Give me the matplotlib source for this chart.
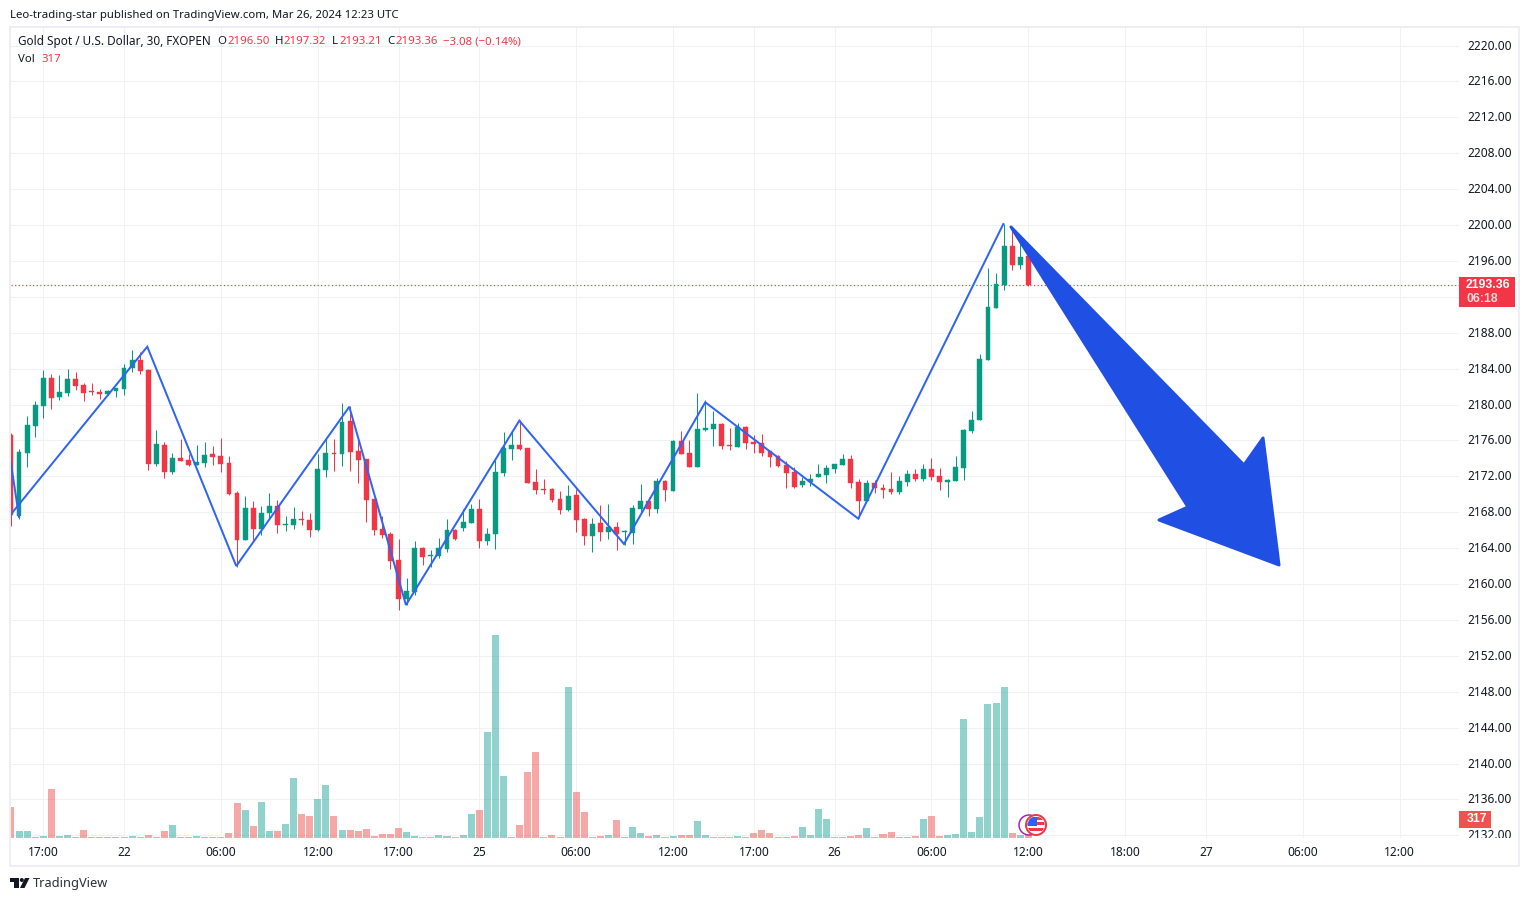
import matplotlib
matplotlib.use("Agg")
import matplotlib.pyplot as plt
from matplotlib.patches import Polygon, Rectangle, Circle
from matplotlib.transforms import Bbox, ScaledTranslation

FONT = "Noto Sans"
plt.rcParams["font.family"] = FONT

opens = [2176.61,2167.59,2174.64,2177.61,2179.88,2182.96,2180.84,2181.29,2182.85,2182.18,
2181.51,2181.40,2181.17,2181.51,2181.73,2184.07,2184.96,2183.85,2173.38,2175.49,
2172.49,2174.05,2173.82,2173.27,2173.49,2174.49,2174.27,2173.49,2170.15,2164.91,
2168.48,2166.14,2167.92,2168.70,2166.58,2166.58,2167.25,2167.14,2166.03,2172.71,
2174.60,2174.49,2178.17,2174.83,2173.93,2169.48,2166.14,2165.58,2162.68,2158.34,
2159.12,2164.02,2163.13,2163.13,2163.91,2166.03,2166.25,2166.81,2168.36,2164.80,
2165.58,2172.37,2175.04,2175.49,2175.16,2171.37,2170.59,2170.59,2169.47,2168.25,
2169.92,2167.25,2165.35,2166.80,2165.80,2166.36,2165.80,2165.69,2168.36,2169.25,
2168.36,2171.48,2170.37,2175.94,2174.60,2173.04,2177.16,2177.27,2177.83,2175.49,
2175.27,2177.49,2175.82,2175.71,2174.82,2174.26,2173.26,2172.48,2171.03,2171.37,
2171.92,2172.15,2172.81,2173.26,2173.93,2171.37,2169.25,2171.25,2170.70,2170.59,
2170.25,2171.37,2172.26,2171.70,2172.81,2172.03,2171.37,2171.48,2172.93,2177.05,
2178.28,2184.96,2190.75,2193.32,2197.66,2195.54,2196.50]

highs = [2176.79,2175.05,2178.72,2180.40,2183.85,2183.40,2183.29,2183.96,2183.63,2182.40,
2182.40,2181.73,2181.62,2181.88,2184.52,2186.08,2185.85,2183.96,2177.16,2175.83,
2174.60,2176.16,2174.49,2175.49,2175.83,2175.38,2176.27,2174.27,2170.37,2169.81,
2169.26,2168.70,2170.15,2169.37,2167.58,2168.59,2168.14,2167.92,2174.49,2176.27,
2176.16,2180.17,2179.84,2175.94,2173.93,2169.48,2167.58,2165.80,2165.02,2160.68,
2164.80,2164.13,2163.80,2165.13,2167.25,2166.14,2168.36,2168.92,2169.48,2166.25,
2173.82,2176.94,2177.05,2178.27,2175.16,2172.82,2171.70,2170.70,2170.37,2171.03,
2170.59,2167.36,2167.36,2168.81,2168.92,2166.91,2166.02,2168.81,2171.15,2169.70,
2171.81,2171.59,2176.05,2177.05,2176.05,2181.28,2180.50,2179.28,2177.94,2177.38,
2177.94,2177.60,2176.60,2176.71,2174.82,2174.37,2173.71,2173.04,2171.92,2172.26,
2173.37,2173.26,2173.37,2174.48,2174.37,2171.70,2171.59,2171.59,2171.14,2172.48,
2172.03,2172.70,2172.81,2173.37,2174.04,2172.93,2171.70,2174.27,2177.28,2179.28,
2185.63,2195.21,2194.65,2200.11,2199.44,2197.99,2197.32]

lows = [2166.51,2167.25,2173.08,2176.39,2178.50,2179.50,2180.51,2180.95,2181.62,2180.40,
2181.06,2180.62,2181.06,2180.84,2181.06,2183.63,2183.40,2172.71,2173.15,2171.82,
2172.26,2173.71,2173.15,2173.27,2173.04,2173.27,2172.49,2169.92,2161.94,2164.91,
2164.91,2165.47,2167.36,2165.69,2165.91,2166.14,2166.58,2165.25,2165.91,2171.93,
2172.60,2173.15,2172.60,2171.26,2166.92,2165.47,2165.13,2161.68,2157.11,2157.67,
2158.79,2162.13,2161.90,2162.91,2163.57,2164.91,2165.91,2166.81,2164.02,2164.35,
2163.91,2172.04,2173.82,2174.93,2171.26,2170.03,2170.03,2169.14,2167.80,2168.14,
2165.80,2164.35,2163.57,2164.80,2165.02,2163.79,2164.35,2164.46,2167.92,2167.58,
2167.92,2169.25,2170.37,2174.49,2173.04,2173.04,2177.05,2175.38,2175.04,2174.93,
2175.27,2175.04,2174.60,2174.26,2173.04,2173.04,2170.70,2170.70,2170.81,2170.92,
2171.92,2171.25,2172.37,2173.26,2170.70,2167.36,2169.25,2170.14,2169.58,2170.03,
2170.03,2170.92,2171.48,2171.48,2171.59,2170.47,2169.70,2171.48,2171.59,2176.83,
2178.28,2184.96,2190.75,2192.76,2194.99,2195.10,2193.21]

closes = [2167.73,2174.71,2177.72,2179.95,2182.96,2180.73,2181.40,2182.85,2182.07,2181.29,
2181.40,2181.17,2181.51,2181.84,2184.07,2184.96,2183.74,2173.38,2175.61,2172.49,
2174.05,2173.71,2173.27,2173.60,2174.38,2174.16,2173.38,2170.04,2164.91,2168.48,
2166.14,2167.92,2168.70,2166.58,2166.69,2167.25,2167.14,2166.03,2172.82,2174.60,
2174.49,2178.06,2174.71,2173.82,2169.37,2166.03,2165.47,2162.57,2158.34,2159.23,
2164.02,2163.02,2163.24,2164.02,2166.03,2165.02,2166.92,2168.36,2164.80,2165.58,
2172.49,2175.16,2175.49,2175.04,2171.26,2170.48,2170.48,2169.36,2168.25,2169.81,
2167.14,2165.35,2166.69,2165.80,2166.36,2165.58,2165.91,2168.47,2169.25,2168.36,
2171.48,2170.48,2175.94,2174.49,2173.04,2177.27,2177.38,2177.83,2175.38,2175.38,
2177.49,2175.71,2175.60,2174.60,2174.15,2173.15,2172.37,2170.81,2171.48,2171.70,
2172.26,2172.93,2173.37,2173.93,2171.25,2169.25,2171.25,2170.70,2170.47,2170.25,
2171.48,2172.26,2171.70,2172.81,2171.92,2171.37,2171.59,2173.04,2177.16,2178.28,
2185.07,2190.87,2193.43,2197.66,2195.54,2196.43,2193.36]

volumes = [3100,700,700,150,200,4900,200,300,100,800,100,100,100,100,100,200,100,300,100,700,
1300,100,100,200,100,100,100,500,3500,2800,1200,3600,700,700,1400,6000,2400,2200,3900,5300,
2200,800,800,700,900,200,400,400,1000,600,200,100,100,300,200,100,300,2400,2800,10600,
20300,6200,100,1300,6600,8600,100,300,100,15100,4600,2600,100,200,300,1800,100,1100,500,200,
300,100,200,300,300,1700,300,100,100,100,200,100,500,800,500,100,100,200,1100,300,
2900,1900,100,100,200,300,1000,100,400,600,100,100,200,1900,2200,200,300,400,11900,600,
2100,13400,13500,15100,500,300,317]

price_ticks = [2132,2136,2140,2144,2148,2152,2156,2160,2164,2168,2172,2176,2180,2184,2188,
               2192,2196,2200,2204,2208,2212,2216,2220]
hidden_price_labels = [2192]
time_pos = [4,14,26,38,48,58,70,82,92,102,114,126,138,148,160,172]
time_labels = ["17:00","22","06:00","12:00","17:00","25","06:00","12:00","17:00","26",
               "06:00","12:00","18:00","27","06:00","12:00"]

zigzag_x = [0.09,16.88,27.9,41.9,48.92,62.96,75.92,85.99,104.94,122.9]
zigzag_p = [2167.88,2186.44,2162.0,2179.75,2157.66,2178.2,2164.46,2180.25,2167.28,2200.11]
lead_x = [-0.1,1.0]
lead_p = [2174.0,2167.47]
arrow_x = [123.85,152.71,155.07,157.05,142.18,145.77]
arrow_p = [2199.78,2173.26,2176.27,2162.12,2167.13,2168.58]

last_price = 2193.36
GREEN, RED = "#089981", "#F23645"
VG, VR = "#26a69a", "#ef5350"
GRID = "#f0f1f5"
TXT = "#131722"
W, H = 1529, 901
LEFT, RIGHT, TOP, BOTTOM = 10.5, 1459, 28, 838
px = 0.72  # one pixel in points

fig = plt.figure(figsize=(W/100, H/100), dpi=100, facecolor="white")
rect = [LEFT/W, 1-BOTTOM/H, (RIGHT-LEFT)/W, (BOTTOM-TOP)/H]

ax = fig.add_axes(rect, zorder=1)
ax.set_xlim(-0.06, 179.34)
ax.set_ylim(2131.70, 2221.95)
for s in ax.spines.values():
    s.set_visible(False)
ax.grid(True, color=GRID, lw=1*px, zorder=0)
ax.set_axisbelow(True)
ax.yaxis.tick_right()
ax.set_yticks(price_ticks)
ax.set_yticklabels(["" if p in hidden_price_labels else f"{p:.2f}" for p in price_ticks])
ax.set_xticks(time_pos)
ax.set_xticklabels(time_labels)
ax.tick_params(axis="y", length=0, pad=6.3, labelsize=8.6, labelcolor=TXT)
ax.tick_params(axis="x", length=0, pad=6.0, labelsize=8.6, labelcolor=TXT)
clip = Bbox([[1400, H-BOTTOM], [W, H]])
up = ScaledTranslation(0, 1/100, fig.dpi_scale_trans)
for lab in ax.get_yticklabels():
    lab.set_clip_on(True)
    lab.set_clip_box(clip)
    lab.set_transform(lab.get_transform() + up)

for i, (o, h, l, c) in enumerate(zip(opens, highs, lows, closes)):
    col = GREEN if c >= o else RED
    ax.vlines(i, l, h, color=col, lw=1*px, zorder=3)
    ax.bar(i, abs(c-o), bottom=min(o, c), width=0.6, color=col, edgecolor=col, lw=0.3, zorder=4)

ax.axhline(last_price, color=RED, lw=1.2*px, ls=(0, (1, 2)), zorder=2)
ax.plot(zigzag_x, zigzag_p, color="#2f64f5", lw=2*px, zorder=5, solid_joinstyle="miter")
ax.plot(lead_x, lead_p, color="#2f64f5", lw=2*px, zorder=5)
ax.add_patch(Polygon(list(zip(arrow_x, arrow_p)), closed=True, facecolor="#1f4fe3",
                     edgecolor="#1f4fe3", lw=3*px, joinstyle="round", zorder=6))

axv = fig.add_axes(rect, zorder=2, sharex=ax)
axv.axis("off")
axv.patch.set_visible(False)
axv.set_ylim(0, 81000)
for i, v in enumerate(volumes):
    col = VG if closes[i] >= opens[i] else VR
    axv.bar(i, v, width=0.87, color=col, alpha=0.5, lw=0)
axv.set_xlim(-0.06, 179.34)

# pixel overlay for chrome
ov = fig.add_axes([0, 0, 1, 1], zorder=3)
ov.set_xlim(0, W)
ov.set_ylim(H, 0)
ov.axis("off")
ov.patch.set_visible(False)
ov.add_patch(Rectangle((9.5, 27), 1509.5, 839, fill=False, ec="#eeeff6", lw=2*px))

FS = 8.2
ov.text(10, 15.5, "Leo-trading-star published on TradingView.com, Mar 26, 2024 12:23 UTC",
        fontsize=FS, color=TXT, va="center")
ov.text(18, 42, "Gold Spot / U.S. Dollar, 30, FXOPEN", fontsize=8.45, color=TXT, va="center")
for x, s, col in [(217, "O", TXT), (227, "2196.50", RED), (275, "H", TXT), (283, "2197.32", RED),
                  (332, "L", TXT), (339, "2193.21", RED), (387, "C", TXT), (395, "2193.36", RED),
                  (443, "\u22123.08 (\u22120.14%)", RED)]:
    ov.text(x, 42, s, fontsize=FS, color=col, va="center")
ov.text(18, 59, "Vol", fontsize=FS, color=TXT, va="center")
ov.text(41, 59, "317", fontsize=FS, color=RED, va="center")

BF = "Liberation Sans"
ov.add_patch(Rectangle((1459, 277), 56, 30, fc=RED, ec="none"))
ov.text(1488, 285, "2193.36", color="white", fontsize=8.8, family=BF, fontweight="bold", ha="center", va="center")
ov.text(1482, 299, "06:18", color="#fbd5d8", fontsize=8.8, family=BF, fontweight="bold", ha="center", va="center")
ov.add_patch(Rectangle((1459, 811), 32, 17, fc=VR, ec="none"))
ov.text(1477, 819.5, "317", color="white", fontsize=8.8, family=BF, fontweight="bold", ha="center", va="center")

# event flags
ov.add_patch(Circle((1029, 825), 10, fc="white", ec="#9c27b0", lw=1.5*px))
ov.add_patch(Circle((1036, 825), 10, fc="white", ec=RED, lw=2*px))
inner = Circle((1036, 825), 8.5, transform=ov.transData)
for y0, h0 in [(817, 3), (822, 3), (828, 3)]:
    r = Rectangle((1027, y0), 20, h0, fc=RED, ec="none")
    ov.add_patch(r)
    r.set_clip_path(inner)
b = Rectangle((1027, 817), 10, 9, fc="#2962ff", ec="none")
ov.add_patch(b)
b.set_clip_path(inner)

# TradingView logo
ov.add_patch(Polygon([(10, 878), (18.5, 878), (18.5, 888), (14, 888), (14, 882), (10, 882)], fc=TXT, ec="none"))
ov.add_patch(Circle((21.8, 880), 2, fc=TXT, ec="none"))
ov.add_patch(Polygon([(25, 878), (29.5, 878), (24.5, 888), (20, 888)], fc=TXT, ec="none"))
ov.text(33, 883.5, "TradingView", fontsize=9.2, color="#2a2e39", va="center")

fig.savefig("out.png", dpi=100, facecolor="white")
